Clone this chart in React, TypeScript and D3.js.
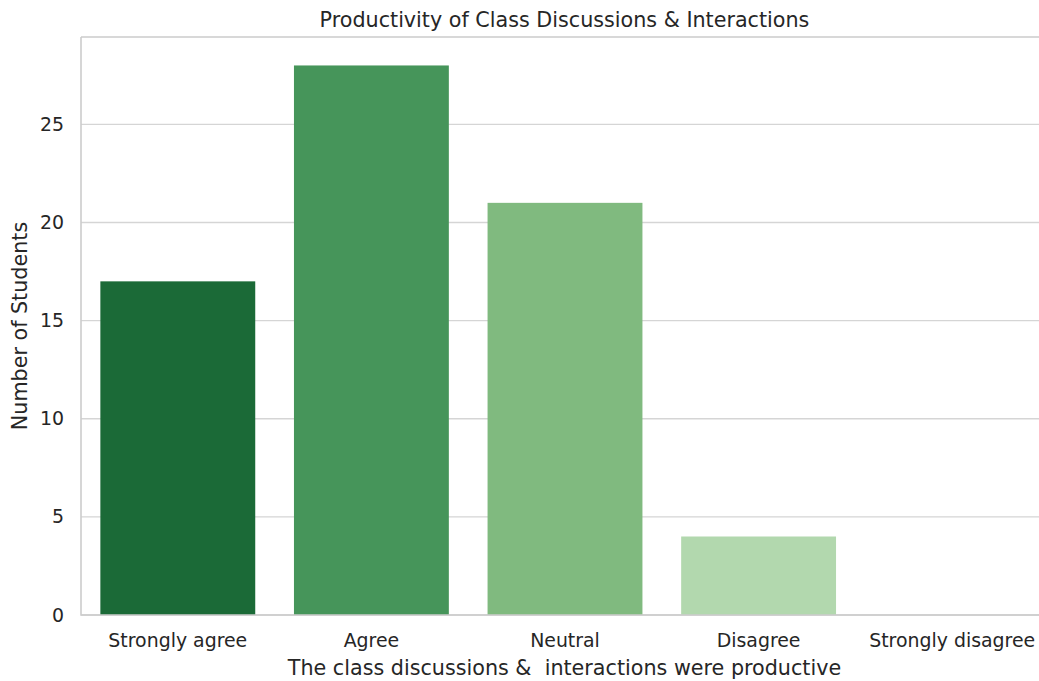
import React from 'react'
import * as d3 from "d3";

const categories = ["Strongly agree", "Agree", "Neutral", "Disagree", "Strongly disagree"]
const counts = [17, 28, 21, 4, 0]
const barColors = ["#1b6a37", "#46955a", "#80ba7f", "#b2d8ae", "#e5f5e0"]
const yTicks = [0, 5, 10, 15, 20, 25]

function drawChart(svgRef: React.RefObject<SVGSVGElement>) {
  const width = 1039
  const height = 681
  const margin = {top: 37, right: -10, bottom: 66, left: 81}

  const svg = d3.select(svgRef.current)
      .attr("width", width)
      .attr("height", height)
      .attr("font-family", "'DejaVu Sans', sans-serif")

  svg.selectAll("*").remove()

  const x = d3.scaleBand()
    .domain(categories)
    .range([margin.left, width - margin.right])
    .paddingInner(0.2)
    .paddingOuter(0.1)

  const y = d3.scaleLinear()
    .domain([0, 29.45])
    .range([height - margin.bottom, margin.top])

  // grid
  svg.append("g")
    .selectAll("line")
    .data(yTicks)
    .join("line")
      .attr("x1", margin.left)
      .attr("x2", width - margin.right)
      .attr("y1", d => y(d))
      .attr("y2", d => y(d))
      .attr("stroke", "#d5d5d5")
      .attr("stroke-width", 1.4)

  svg.append("g")
    .selectAll("rect")
    .data(counts)
    .join("rect")
      .attr("x", (d, i) => x(categories[i]))
      .attr("width", x.bandwidth())
      .attr("y", d => y(d))
      .attr("height", d => y(0) - y(d))
      .attr("fill", (d, i) => barColors[i])

  // spines
  svg.append("path")
      .attr("d", `M${margin.left},${margin.top}H${width - margin.right}M${margin.left},${margin.top}V${y(0)}H${width - margin.right}`)
      .attr("fill", "none")
      .attr("stroke", "#cccccc")
      .attr("stroke-width", 1.6)

  svg.append("g")
      .attr("font-size", 18.9)
      .attr("fill", "#262626")
    .selectAll("text")
    .data(yTicks)
    .join("text")
      .attr("x", margin.left - 17)
      .attr("y", d => y(d))
      .attr("dy", "0.35em")
      .attr("text-anchor", "end")
      .text(d => d)

  svg.append("g")
      .attr("font-size", 18.9)
      .attr("fill", "#262626")
    .selectAll("text")
    .data(categories)
    .join("text")
      .attr("x", d => x(d) + x.bandwidth() / 2)
      .attr("y", y(0) + 32)
      .attr("text-anchor", "middle")
      .text(d => d)

  svg.append("text")
      .attr("x", (margin.left + 1048) / 2)
      .attr("y", 675)
      .attr("text-anchor", "middle")
      .attr("font-size", 20.7)
      .attr("fill", "#262626")
      .attr("xml:space", "preserve")
      .style("white-space", "pre")
      .text("The class discussions &  interactions were productive")

  svg.append("text")
      .attr("transform", `translate(27,${(margin.top + y(0)) / 2}) rotate(-90)`)
      .attr("text-anchor", "middle")
      .attr("font-size", 20.7)
      .attr("fill", "#262626")
      .text("Number of Students")

  svg.append("text")
      .attr("x", (margin.left + 1048) / 2)
      .attr("y", 27)
      .attr("text-anchor", "middle")
      .attr("font-size", 20.7)
      .attr("fill", "#262626")
      .text("Productivity of Class Discussions & Interactions")

  return svg.node()
}

const App: React.FunctionComponent = () => {
  const svg = React.useRef<SVGSVGElement>(null)

  React.useEffect(() => {
    drawChart(svg)
  }, [svg])

  return (
    <div id="chart" style={{position: "absolute", left: 0, top: 0}}>
      <svg ref={svg} style={{display: "block"}} />
    </div>
  )
}

export default App
